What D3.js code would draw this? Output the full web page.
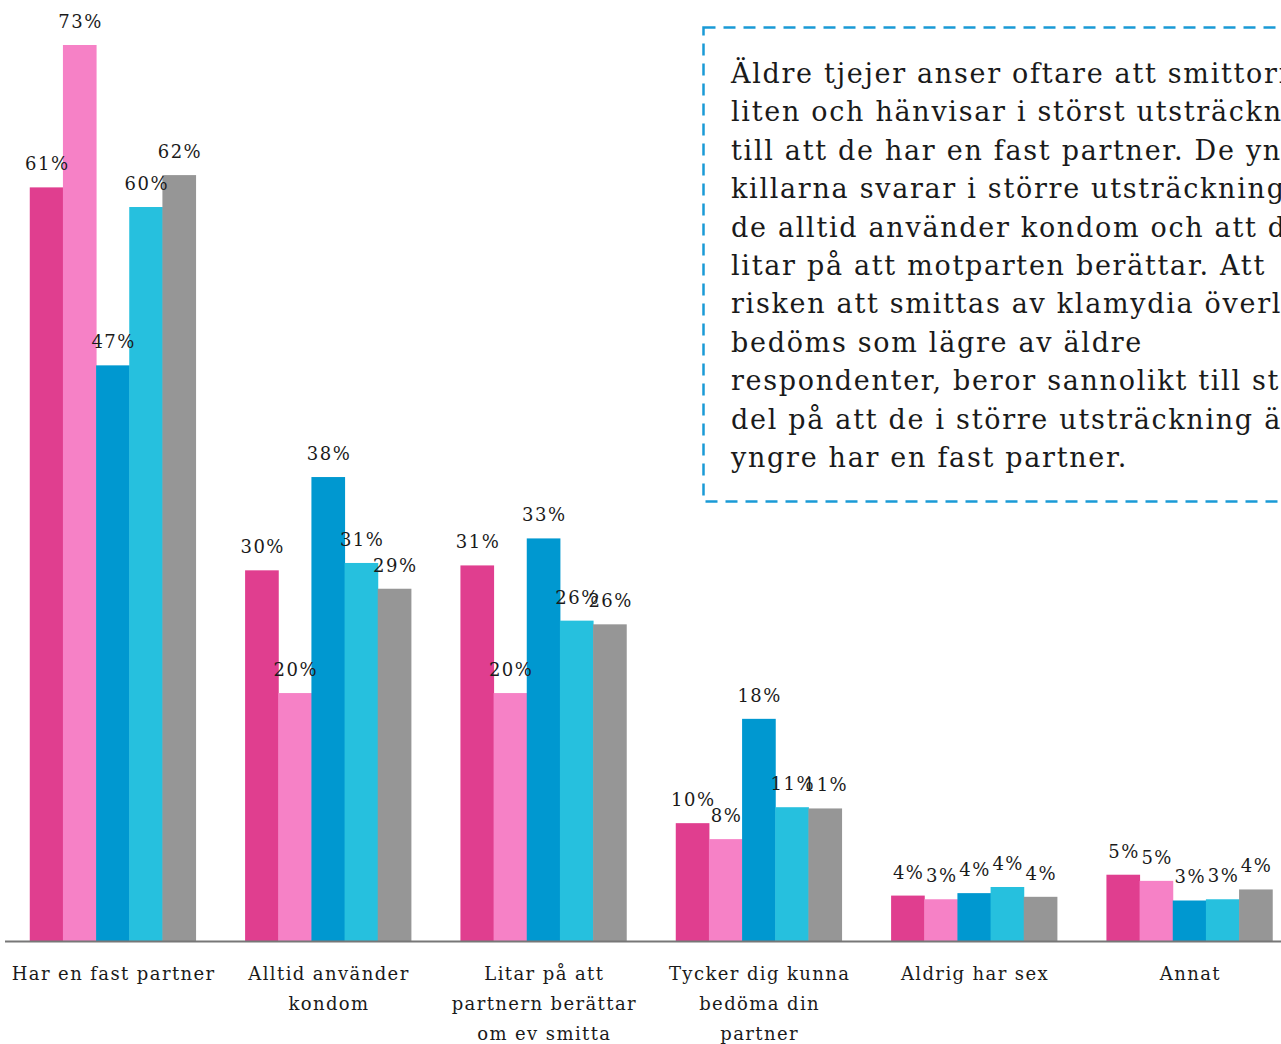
<!DOCTYPE html>
<html>
<head>
<meta charset="utf-8">
<script src="https://cdn.jsdelivr.net/npm/d3@7"></script>
<style>
  html, body { margin: 0; padding: 0; background: #fff; overflow: hidden; }
  text { font-family: "DejaVu Serif", serif; fill: #1a1a1a; }
</style>
</head>
<body>
<div class="chart"></div>
<script>
// kategorier (rader i etiketten)
const categories = [
  ["Har en fast partner"],
  ["Alltid använder", "kondom"],
  ["Litar på att", "partnern berättar", "om ev smitta"],
  ["Tycker dig kunna", "bedöma din", "partner"],
  ["Aldrig har sex"],
  ["Annat"]
];

// fem serier, avlästa värden i procent
const series1 = [61.4, 30.2, 30.6, 9.6, 3.7, 5.4];
const series2 = [73.0, 20.2, 20.2, 8.3, 3.4, 4.9];
const series3 = [46.9, 37.8, 32.8, 18.1, 3.9, 3.3];
const series4 = [59.8, 30.8, 26.1, 10.9, 4.4, 3.4];
const series5 = [62.4, 28.7, 25.8, 10.8, 3.6, 4.2];
const seriesList = [series1, series2, series3, series4, series5];
const colors = ["#e03e8f", "#f681c6", "#0098d0", "#26c0de", "#969696"];

const boxLines = [
  "Äldre tjejer anser oftare att smittorisken är",
  "liten och hänvisar i störst utsträckning",
  "till att de har en fast partner. De yngre",
  "killarna svarar i större utsträckning att",
  "de alltid använder kondom och att de",
  "litar på att motparten berättar. Att",
  "risken att smittas av klamydia överlag",
  "bedöms som lägre av äldre",
  "respondenter, beror sannolikt till stor",
  "del på att de i större utsträckning än",
  "yngre har en fast partner."
];

const width = 1281;
const height = 1044;
const baseline = 941;

const svg = d3.select('.chart')
    .append('svg')
    .attr('width', width)
    .attr('height', height);

const x0 = d3.scaleBand()
    .domain(d3.range(categories.length))
    .range([5, 1297])
    .paddingInner(0.23)
    .paddingOuter(0.115);

const x1 = d3.scaleBand()
    .domain(d3.range(seriesList.length))
    .range([0, x0.bandwidth()]);

const y = d3.scaleLinear()
    .domain([0, 73])
    .range([baseline, 45]);

// staplar
const groups = svg.selectAll('g.group')
    .data(categories)
    .join('g')
    .attr('class', 'group')
    .attr('transform', (d, i) => `translate(${x0(i)},0)`);

groups.each(function(c, ci) {
    const g = d3.select(this);
    g.selectAll('rect')
        .data(seriesList.map((s, si) => ({ si, v: s[ci] })))
        .join('rect')
        .attr('x', d => x1(d.si))
        .attr('y', d => y(d.v))
        .attr('width', x1.bandwidth() + 0.5)
        .attr('height', d => baseline - y(d.v))
        .attr('fill', d => colors[d.si]);
});

// x-axel
svg.append('line')
    .attr('x1', 5).attr('x2', width)
    .attr('y1', baseline + 0.5).attr('y2', baseline + 0.5)
    .attr('stroke', '#777')
    .attr('stroke-width', 2);

// värdeetiketter
groups.each(function(c, ci) {
    const g = d3.select(this);
    g.selectAll('text.val')
        .data(seriesList.map((s, si) => ({ si, v: s[ci] })))
        .join('text')
        .attr('class', 'val')
        .attr('x', d => x1(d.si) + x1.bandwidth() / 2 + 1)
        .attr('y', d => y(d.v) - 17)
        .attr('text-anchor', 'middle')
        .style('font-size', '18px')
        .style('letter-spacing', '1.5px')
        .text(d => Math.round(d.v) + '%');
});

// kategorietiketter
groups.append('text')
    .attr('x', x0.bandwidth() / 2)
    .attr('y', 980)
    .attr('text-anchor', 'middle')
    .style('font-size', '18px')
    .style('letter-spacing', '1.4px')
    .selectAll('tspan')
    .data(d => d)
    .join('tspan')
    .attr('x', x0.bandwidth() / 2 + 1)
    .attr('dy', (d, i) => i === 0 ? 0 : 30)
    .text(d => d);

// textruta
svg.append('rect')
    .attr('x', 703.5)
    .attr('y', 27.5)
    .attr('width', 700)
    .attr('height', 474)
    .attr('fill', 'none')
    .attr('stroke', '#1a9ad6')
    .attr('stroke-width', 2.5)
    .attr('stroke-dasharray', '12 8');

svg.append('text')
    .attr('x', 731)
    .attr('y', 83)
    .style('font-size', '27px')
    .style('letter-spacing', '1.7px')
    .selectAll('tspan')
    .data(boxLines)
    .join('tspan')
    .attr('x', 731)
    .attr('dy', (d, i) => i === 0 ? 0 : 38.4)
    .text(d => d);
</script>
</body>
</html>
